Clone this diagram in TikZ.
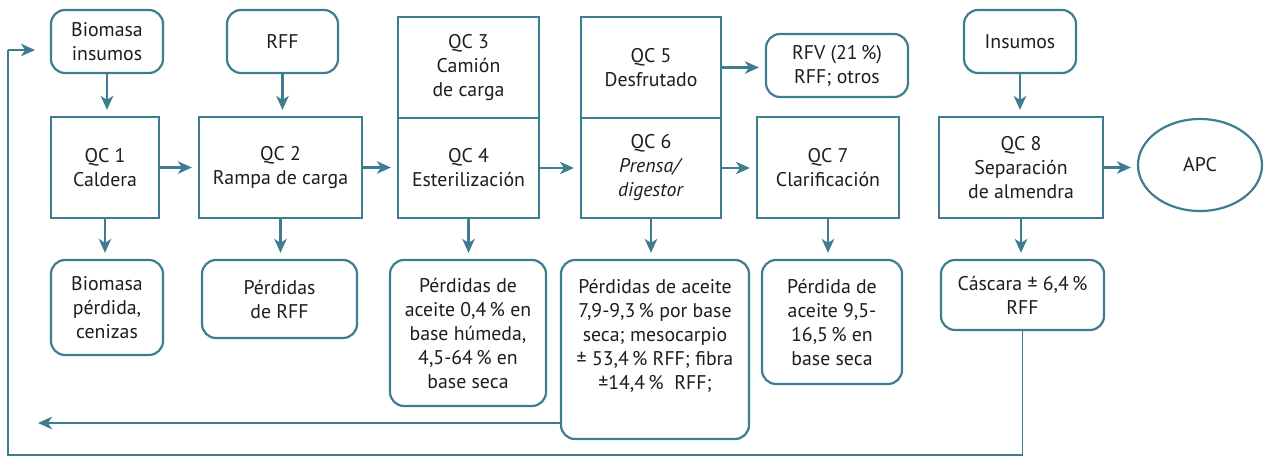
\documentclass[tikz,border=0pt]{standalone}
\usepackage{fontspec}
\setmainfont{PT Sans}
\usetikzlibrary{arrows.meta,shapes.geometric}
\definecolor{lc}{RGB}{62,124,146}
\definecolor{tc}{RGB}{30,28,28}
\begin{document}
\begin{tikzpicture}[x=1pt,y=-1pt,
  font=\fontsize{19.8}{24}\selectfont, text=tc,
  qc/.style={draw=lc,line width=2.2pt,align=center,inner sep=0pt},
  rb/.style={draw=lc,line width=2.2pt,rounded corners=14pt,align=center,inner sep=0pt},
  arr/.style={draw=lc,line width=2.2pt,shorten >=6pt,-{Stealth[length=14pt,width=12.5pt,inset=4pt]}},
  loopline/.style={draw=lc,line width=1.6pt}
]
\useasboundingbox (0,0) rectangle (1265,457);
% top inputs
\node[rb,minimum width=112pt,minimum height=63pt] (bioin) at (107,41.5) {Biomasa\\insumos};
\node[rb,minimum width=111pt,minimum height=63pt] (rffin) at (282.5,41.5) {RFF};
\node[rb,minimum width=112pt,minimum height=63pt] (insum) at (1020,41.5) {Insumos};
\node[rb,minimum width=142pt,minimum height=63pt] (rfv) at (837,65.5) {RFV (21\,\%)\\RFF; otros};
% process boxes
\node[qc,minimum width=108pt,minimum height=101pt] (qc1) at (105,167.5) {QC 1\\Caldera};
\node[qc,minimum width=163pt,minimum height=101pt] (qc2) at (280.5,167.5) {QC 2\\Rampa de carga};
\node[qc,minimum width=141pt,minimum height=101pt] (qc3) at (468.5,67.5) {QC 3\\Camión\\de carga};
\node[qc,minimum width=141pt,minimum height=100pt] (qc4) at (468.5,168) {QC 4\\Esterilización};
\node[qc,minimum width=140pt,minimum height=101pt] (qc5) at (651,67.5) {QC 5\\Desfrutado};
\node[qc,minimum width=140pt,minimum height=100pt] (qc6) at (651,168) {QC 6\\\textit{Prensa/}\\\textit{digestor}};
\node[qc,minimum width=142pt,minimum height=101pt] (qc7) at (828,167.5) {QC 7\\Clarificación};
\node[qc,minimum width=164pt,minimum height=101pt] (qc8) at (1021,167.5) {QC 8\\Separación\\de almendra};
\node[draw=lc,line width=2.2pt,ellipse,inner sep=0pt,minimum width=124pt,minimum height=92pt] (apc) at (1200,165) {APC};
% outputs
\node[rb,minimum width=112pt,minimum height=95pt] (bp) at (107,307.5) {Biomasa\\pérdida,\\cenizas};
\node[rb,minimum width=155pt,minimum height=78pt] (prff) at (279.5,299) {Pérdidas\\de RFF};
\node[rb,minimum width=156pt,minimum height=146pt] (pa4) at (468,333) {Pérdidas de\\aceite 0,4\,\% en\\base húmeda,\\4,5-64\,\% en\\base seca};
\node[rb,minimum width=188pt,minimum height=179pt] (pa6) at (655,349.5) {Pérdidas de aceite\\7,9-9,3\,\% por base\\seca; mesocarpio\\± 53,4\,\% RFF; fibra\\±14,4\,\%\ \ RFF;\\[6pt]};
\node[rb,minimum width=140pt,minimum height=124pt] (pa7) at (832,322) {Pérdida de\\aceite 9,5-\\16,5\,\% en\\base seca};
\node[rb,minimum width=163pt,minimum height=70pt] (casc) at (1022.5,295) {Cáscara ± 6,4\,\%\\RFF};
% connectors: inputs
\draw[arr] (bioin.south) -- (bioin.south |- qc1.north);
\draw[arr] (rffin.south) -- (rffin.south |- qc2.north);
\draw[arr] (insum.south) -- (insum.south |- qc8.north);
% main line
\draw[arr] (qc1.east) -- (qc2.west);
\draw[arr] (qc2.east) -- (qc2.east -| qc4.west);
\draw[arr] (qc4.east) -- (qc6.west);
\draw[arr] (qc6.east) -- (qc6.east -| qc7.west);
\draw[arr] (qc8.east) -- (qc8.east -| apc.west);
\draw[arr] (qc5.east) -- (qc5.east -| rfv.west);
% outputs
\draw[arr] (qc1.south) -- (qc1.south |- bp.north);
\draw[arr] (qc2.south) -- (qc2.south |- prff.north);
\draw[arr] (qc4.south) -- (qc4.south |- pa4.north);
\draw[arr] (qc6.south) -- (qc6.south |- pa6.north);
\draw[arr] (qc7.south) -- (qc7.south |- pa7.north);
\draw[arr] (qc8.south) -- (qc8.south |- casc.north);
% feedback
\coordinate (fb1) at (38,423);
\draw[arr,shorten >=0pt] (pa6.west |- fb1) -- (fb1);
\coordinate (c1) at (8,455);
\coordinate (c2) at (8,50);
\coordinate (fb2) at (35,50);
\draw[loopline] (casc.south) |- (c1) -- (c2);
\draw[arr,line width=1.6pt,shorten >=0pt] (c2) -- (fb2);
\end{tikzpicture}
\end{document}
